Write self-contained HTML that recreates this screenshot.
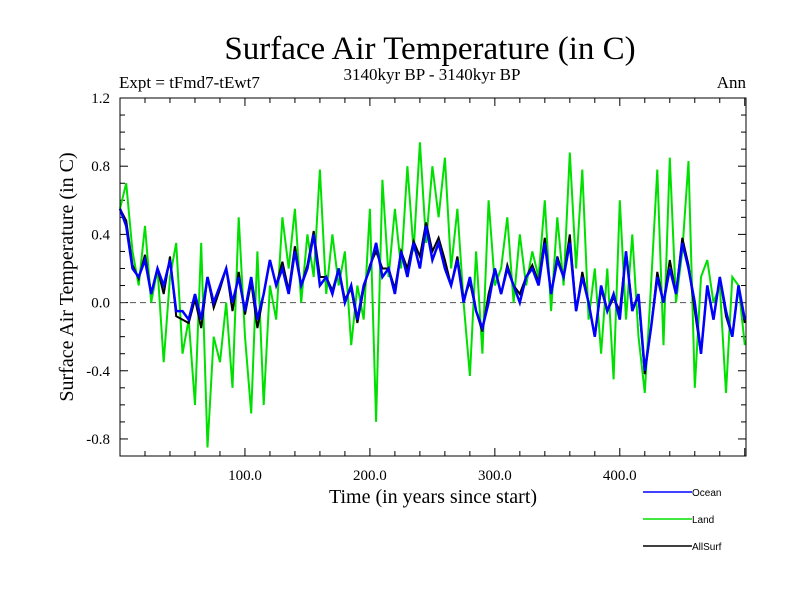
<!DOCTYPE html>
<html><head><meta charset="utf-8"><style>
html,body{margin:0;padding:0;background:#fff;}
svg{display:block;}
text{font-family:"Liberation Serif",serif;fill:#000;}
</style></head><body>
<svg id="chart" width="800" height="600" viewBox="0 0 800 600" xmlns="http://www.w3.org/2000/svg">
<text x="430" y="59" font-size="33" text-anchor="middle">Surface Air Temperature (in C)</text>
<text x="432" y="80" font-size="17" text-anchor="middle">3140kyr BP - 3140kyr BP</text>
<text x="119" y="88" font-size="17">Expt = tFmd7-tEwt7</text>
<text x="746" y="88" font-size="17" text-anchor="end">Ann</text>
<text transform="translate(73,277) rotate(-90)" font-size="20" text-anchor="middle">Surface Air Temperature (in C)</text>
<text x="433" y="503" font-size="20" text-anchor="middle">Time (in years since start)</text>
<g id="ticks"></g>
<g id="series"></g>
<rect x="120" y="98" width="626" height="358" fill="none" stroke="#000" stroke-width="1"/>
<g id="legend"></g>
</svg>
<script>
const years = [];
for (let i = 0; i <= 100; i++) years.push(i * 5);
const landValues = [0.55,0.7,0.3,0.1,0.45,0.0,0.2,-0.35,0.15,0.35,-0.3,-0.1,-0.6,0.35,-0.85,-0.2,-0.35,0.0,-0.5,0.5,-0.2,-0.65,0.3,-0.6,0.1,-0.1,0.5,0.2,0.55,0.0,0.4,0.15,0.78,0.05,0.4,0.1,0.3,-0.25,0.1,-0.1,0.55,-0.7,0.72,0.15,0.55,0.2,0.8,0.3,0.94,0.35,0.8,0.5,0.85,0.2,0.55,0.0,-0.43,0.3,-0.3,0.6,0.1,0.2,0.5,0.0,0.4,0.1,0.3,0.15,0.6,-0.05,0.5,0.1,0.88,0.2,0.78,-0.1,0.2,-0.3,0.2,-0.45,0.6,-0.1,0.4,-0.2,-0.53,0.1,0.78,-0.25,0.85,0.0,0.3,0.83,-0.5,0.15,0.25,0.0,0.1,-0.53,0.15,0.1,-0.25];
const oceanValues = [0.55,0.45,0.2,0.15,0.25,0.05,0.2,0.1,0.25,-0.05,-0.05,-0.1,0.05,-0.1,0.15,0.0,0.1,0.2,0.0,0.15,-0.05,0.15,-0.1,0.05,0.25,0.1,0.2,0.05,0.3,0.1,0.2,0.4,0.1,0.15,0.05,0.2,0.0,0.1,-0.1,0.1,0.2,0.35,0.15,0.2,0.05,0.3,0.15,0.35,0.2,0.45,0.25,0.35,0.2,0.1,0.25,0.0,0.15,-0.05,-0.15,0.0,0.2,0.05,0.2,0.1,0.0,0.15,0.2,0.1,0.35,0.05,0.25,0.15,0.35,-0.05,0.15,0.0,-0.2,0.1,-0.05,0.05,-0.1,0.3,-0.05,0.05,-0.4,-0.15,0.15,0.0,0.2,0.05,0.35,0.2,0.0,-0.3,0.1,-0.1,0.15,-0.05,-0.2,0.1,-0.1];
const allSurfValues = [0.55,0.48,0.22,0.14,0.28,0.05,0.2,0.05,0.27,-0.08,-0.1,-0.12,0.02,-0.15,0.15,-0.03,0.08,0.2,-0.05,0.18,-0.07,0.12,-0.15,0.05,0.25,0.1,0.24,0.07,0.33,0.1,0.22,0.42,0.15,0.15,0.07,0.2,0.02,0.08,-0.12,0.08,0.22,0.3,0.2,0.2,0.08,0.3,0.2,0.36,0.27,0.47,0.3,0.38,0.25,0.1,0.27,0.02,0.12,-0.05,-0.17,0.05,0.2,0.05,0.22,0.1,0.05,0.15,0.22,0.12,0.38,0.05,0.27,0.15,0.4,-0.05,0.18,0.0,-0.2,0.08,-0.05,0.03,-0.05,0.3,-0.03,0.03,-0.42,-0.15,0.18,0.0,0.25,0.05,0.38,0.22,-0.05,-0.3,0.1,-0.1,0.15,-0.08,-0.2,0.1,-0.12];
const yTickValues = [1.2,0.8,0.4,0.0,-0.4,-0.8];
const yTickLabels = ["1.2","0.8","0.4","0.0","-0.4","-0.8"];
const xTickValues = [100,200,300,400];
const xTickLabels = ["100.0","200.0","300.0","400.0"];

const NS = "http://www.w3.org/2000/svg";
const X0 = 120, X1 = 746, Y0 = 98, Y1 = 456;
function xScale(t){ return X0 + (t - 0) / 501 * (X1 - X0); }
function yScale(v){ return Y0 + (1.2 - v) / 2.1 * (Y1 - Y0); }
function mk(tag, attrs){ const e = document.createElementNS(NS, tag); for (const k in attrs) e.setAttribute(k, attrs[k]); return e; }

const ticks = document.getElementById('ticks');
// y minor/major ticks every 0.1
for (let i = -9; i <= 12; i++) {
  const v = i / 10, y = yScale(v), len = (i % 4 === 0) ? 8 : 5;
  const l = mk('line', {x1: X0, x2: X0 + len, y1: y, y2: y, stroke: '#000'});
  
  
  ticks.appendChild(l);
  const r = mk('line', {x1: X1, x2: X1 - len, y1: y, y2: y, stroke: '#000'});
  
  
  ticks.appendChild(r);
}
for (let t = 20; t <= 500; t += 20) {
  const x = xScale(t), len = (t % 100 === 0) ? 8 : 5;
  const b = mk('line', {x1: x, x2: x, y1: Y1, y2: Y1 - len, stroke: '#000'});
  
  
  ticks.appendChild(b);
  const tp = mk('line', {x1: x, x2: x, y1: Y0, y2: Y0 + len, stroke: '#000'});
  
  
  ticks.appendChild(tp);
}
yTickValues.forEach((v, i) => {
  const t = mk('text', {x: 110, y: yScale(v) + 5, 'font-size': 15, 'text-anchor': 'end'});
  
  
  t.textContent = yTickLabels[i];
  ticks.appendChild(t);
});
xTickValues.forEach((v, i) => {
  const t = mk('text', {x: xScale(v), y: 480, 'font-size': 15, 'text-anchor': 'middle'});
  
  
  t.textContent = xTickLabels[i];
  ticks.appendChild(t);
});

const series = document.getElementById('series');
const zl = mk('line', {x1: X0, x2: X1, y1: yScale(0), y2: yScale(0), stroke: '#555', 'stroke-dasharray': '6,4'});


series.appendChild(zl);
function pts(vals){ return vals.map((v, i) => xScale(years[i]).toFixed(1) + ',' + yScale(v).toFixed(1)).join(' '); }
const landLine = mk('polyline', {points: pts(landValues), fill: 'none', stroke: '#00e000', 'stroke-width': 2});


series.appendChild(landLine);
const allLine = mk('polyline', {points: pts(allSurfValues), fill: 'none', stroke: '#000', 'stroke-width': 2});


series.appendChild(allLine);
const oceanLine = mk('polyline', {points: pts(oceanValues), fill: 'none', stroke: '#0000ff', 'stroke-width': 2.5});


series.appendChild(oceanLine);

const legend = document.getElementById('legend');
const legendNames = ["Ocean","Land","AllSurf"];
const legendColors = ["#0000ff","#00e000","#000"];
legendNames.forEach((n, i) => {
  const y = 492 + i * 27;
  const l = mk('line', {x1: 643, x2: 692, y1: y, y2: y, stroke: legendColors[i], 'stroke-width': 1.5});
  
  
  legend.appendChild(l);
  const t = mk('text', {x: 692, y: y + 4, 'font-size': 10, style: 'font-family:"Liberation Sans",sans-serif'});
  
  
  t.textContent = n;
  legend.appendChild(t);
});
</script>
</body></html>
